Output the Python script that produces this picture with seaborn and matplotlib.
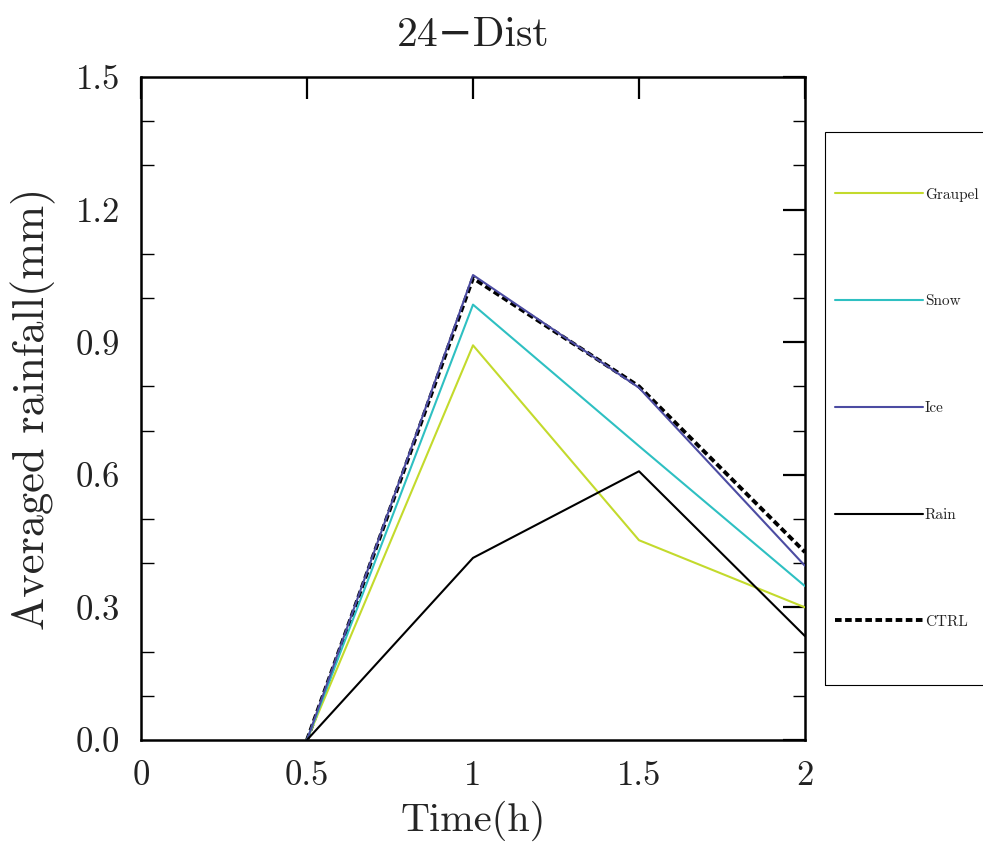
import matplotlib
matplotlib.use("Agg")
import matplotlib.pyplot as plt
import seaborn as sns
import pandas as pd
from matplotlib.patches import Rectangle
from matplotlib.ticker import MultipleLocator

sns.set_theme(style="white")
plt.rcParams['font.family'] = ['cmr10', 'DejaVu Serif']
plt.rcParams['axes.unicode_minus'] = True
plt.rcParams['text.color'] = '#222222'

time_h = [0.5, 1.0, 1.5, 2.0]
graupel = [0.0, 0.893, 0.452, 0.300]
snow = [0.0, 0.985, 0.665, 0.348]
ice = [0.0, 1.052, 0.797, 0.394]
rain = [0.0, 0.412, 0.608, 0.235]
ctrl = [0.0, 1.045, 0.800, 0.425]

series_names = ["Graupel", "Snow", "Ice", "Rain", "CTRL"]
series_vals = [graupel, snow, ice, rain, ctrl]
colors = ["#c3da2c", "#2ec0c2", "#4c4ca2", "#000000", "#000000"]

x_ticks = [0, 0.5, 1, 1.5, 2]
x_ticklabels = ["0", "0.5", "1", "1.5", "2"]
y_ticks = [0.0, 0.3, 0.6, 0.9, 1.2, 1.5]
y_ticklabels = ["0.0", "0.3", "0.6", "0.9", "1.2", "1.5"]

W, H = 983, 848
fig = plt.figure(figsize=(W / 100, H / 100), dpi=100)
ax = fig.add_axes([141 / W, 1 - 740 / H, (805 - 141) / W, (740 - 77) / H])

for name, vals, c in zip(series_names, series_vals, colors):
    df = pd.DataFrame({"t": time_h, "v": vals})
    if name == "CTRL":
        sns.lineplot(data=df, x="t", y="v", ax=ax, color=c, lw=2.8,
                     linestyle=(0, (1.7, 0.9)), label=name, zorder=2)
    else:
        sns.lineplot(data=df, x="t", y="v", ax=ax, color=c, lw=1.5,
                     label=name, zorder=3)
handles, labels = ax.get_legend_handles_labels()
ax.get_legend().remove()

ax.set_xlim(0, 2)
ax.set_ylim(0, 1.5)
ax.set_xticks(x_ticks)
ax.set_xticklabels(x_ticklabels)
ax.set_yticks(y_ticks)
ax.set_yticklabels(y_ticklabels)
ax.yaxis.set_minor_locator(MultipleLocator(0.1))
ax.tick_params(axis="both", which="major", direction="in", length=16, width=1.6,
               top=True, right=True, labelsize=25, color="black",
               labelcolor="#222222")
ax.tick_params(axis="x", which="major", pad=15)
ax.tick_params(axis="y", which="major", pad=15)
ax.tick_params(axis="y", which="minor", direction="in", length=9, width=1.0,
               left=True, right=True, color="black")
for s in ax.spines.values():
    s.set_color("black")
    s.set_linewidth(1.8)

ax.set_xlabel("Time(h)", fontsize=29, labelpad=6)
ax.set_ylabel("Averaged rainfall(mm)", fontsize=32, labelpad=14)
ax.set_title("24\u2212Dist", fontsize=30, pad=22)

# legend box (extends past the right edge)
rect = Rectangle((825 / W, 1 - 685 / H), 200 / W, (685 - 132) / H,
                 transform=fig.transFigure, fill=False, edgecolor="black",
                 linewidth=0.8, clip_on=False)
fig.patches.append(rect)

order = [labels.index(n) for n in series_names]
leg = fig.legend([handles[i] for i in order], [labels[i] for i in order],
                 loc="upper left", bbox_to_anchor=(827 / W, 1 - 180 / H),
                 frameon=False, handlelength=5.76,
                 handletextpad=0.13, labelspacing=6.09, borderpad=0,
                 prop={"family": ["cmr10", "DejaVu Serif"], "size": 11})

fig.savefig("out.png", dpi=100)
